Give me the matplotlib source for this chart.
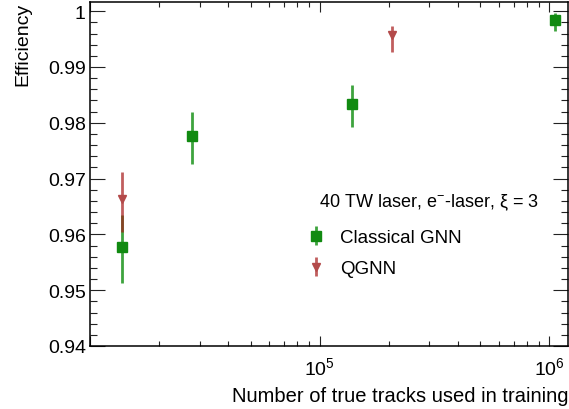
import matplotlib
matplotlib.use('Agg')
import matplotlib.pyplot as plt
from matplotlib.ticker import LogLocator, MultipleLocator, FuncFormatter, LogFormatterMathtext, NullFormatter

plt.rcParams['font.family'] = ['Liberation Sans', 'DejaVu Sans']
plt.rcParams['mathtext.fontset'] = 'custom'
plt.rcParams['mathtext.rm'] = 'Liberation Sans'
plt.rcParams['mathtext.it'] = 'Liberation Sans:italic'
plt.rcParams['mathtext.bf'] = 'Liberation Sans:bold'
plt.rcParams['mathtext.sf'] = 'Liberation Sans'

# ---- data ----
classical_tracks = [13800, 27700, 138000, 1060000]
classical_eff = [0.9578, 0.9777, 0.9834, 0.9985]
classical_err_lo = [0.0065, 0.0050, 0.0042, 0.0021]
classical_err_hi = [0.0056, 0.0042, 0.0034, 0.0011]

qgnn_tracks = [13800, 207000]
qgnn_eff = [0.9663, 0.9957]
qgnn_err_lo = [0.0058, 0.0030]
qgnn_err_hi = [0.0049, 0.0016]

series_labels = ['Classical GNN', 'QGNN']
header = r'40 TW laser, e$^{-}$-laser, ξ = 3'
x_title = 'Number of true tracks used in training'
y_title = 'Efficiency'

green = '#118a11'
green_bar = (0.05, 0.55, 0.05, 0.8)
red = '#b34a4a'
red_bar = (0.65, 0.1, 0.1, 0.7)

W, H = 569, 410
fig = plt.figure(figsize=(W / 100, H / 100), dpi=100)
ax = fig.add_axes([90 / W, 1 - 347 / H, (568 - 90) / W, (347 - 2.7) / H])

ax.errorbar(classical_tracks, classical_eff,
            yerr=[classical_err_lo, classical_err_hi],
            fmt='s', color=green, ecolor=green_bar, elinewidth=2,
            markersize=7.2, capsize=0, zorder=3)
ax.errorbar(qgnn_tracks, qgnn_eff,
            yerr=[qgnn_err_lo, qgnn_err_hi],
            fmt='v', color=red, ecolor=red_bar, elinewidth=2,
            markersize=6.0, capsize=0, zorder=4)

# legend proxies (with caps, as in the reference legend)
h1 = ax.errorbar([], [], yerr=[], fmt='s', color=green, ecolor=green_bar,
                 elinewidth=2, markersize=7.2, capsize=4.5, capthick=1.8)
h2 = ax.errorbar([], [], yerr=[], fmt='v', color=red, ecolor=red_bar,
                 elinewidth=2, markersize=6.0, capsize=4.5, capthick=1.8)

ax.set_xscale('log')
ax.set_xlim(1e4, 10 ** 6.0806)
ax.set_ylim(0.94, 1.0017)

_logfmt = LogFormatterMathtext()
ax.xaxis.set_major_locator(LogLocator(base=10))
ax.xaxis.set_minor_locator(LogLocator(base=10, subs=[2, 3, 4, 5, 6, 7, 8, 9]))
ax.xaxis.set_major_formatter(FuncFormatter(lambda v, p: '' if v < 5e4 else _logfmt(v, p)))
ax.xaxis.set_minor_formatter(NullFormatter())

ax.yaxis.set_major_locator(MultipleLocator(0.01))
ax.yaxis.set_minor_locator(MultipleLocator(0.002))
ax.yaxis.set_major_formatter(FuncFormatter(lambda v, p: f'{v:.2f}'.rstrip('0').rstrip('.')))

ax.tick_params(which='both', direction='in', top=True, right=True,
               labelsize=14, color='#222222', width=0.8)
ax.tick_params(axis='y', which='major', length=10.5, pad=3)
ax.tick_params(axis='y', which='minor', length=5)
ax.tick_params(axis='x', which='major', length=7.2, pad=7)
ax.tick_params(axis='x', which='minor', length=3.5)
for s in ax.spines.values():
    s.set_linewidth(1.1)

ax.set_xlabel(x_title, fontsize=14.5, loc='right', labelpad=6)
ax.set_ylabel(y_title, fontsize=14, loc='top', labelpad=12)

fig.text(319 / W, 1 - 207.3 / H, header, fontsize=13, ha='left', va='baseline')

ax.legend([h1, h2], series_labels, loc='upper left',
          bbox_to_anchor=(307 / W, 1 - 230 / H), bbox_transform=fig.transFigure,
          frameon=False, fontsize=13.5, handlelength=1.0, handletextpad=0.78,
          borderpad=0, borderaxespad=0, labelspacing=0.75)

fig.savefig('out.png', dpi=100)
